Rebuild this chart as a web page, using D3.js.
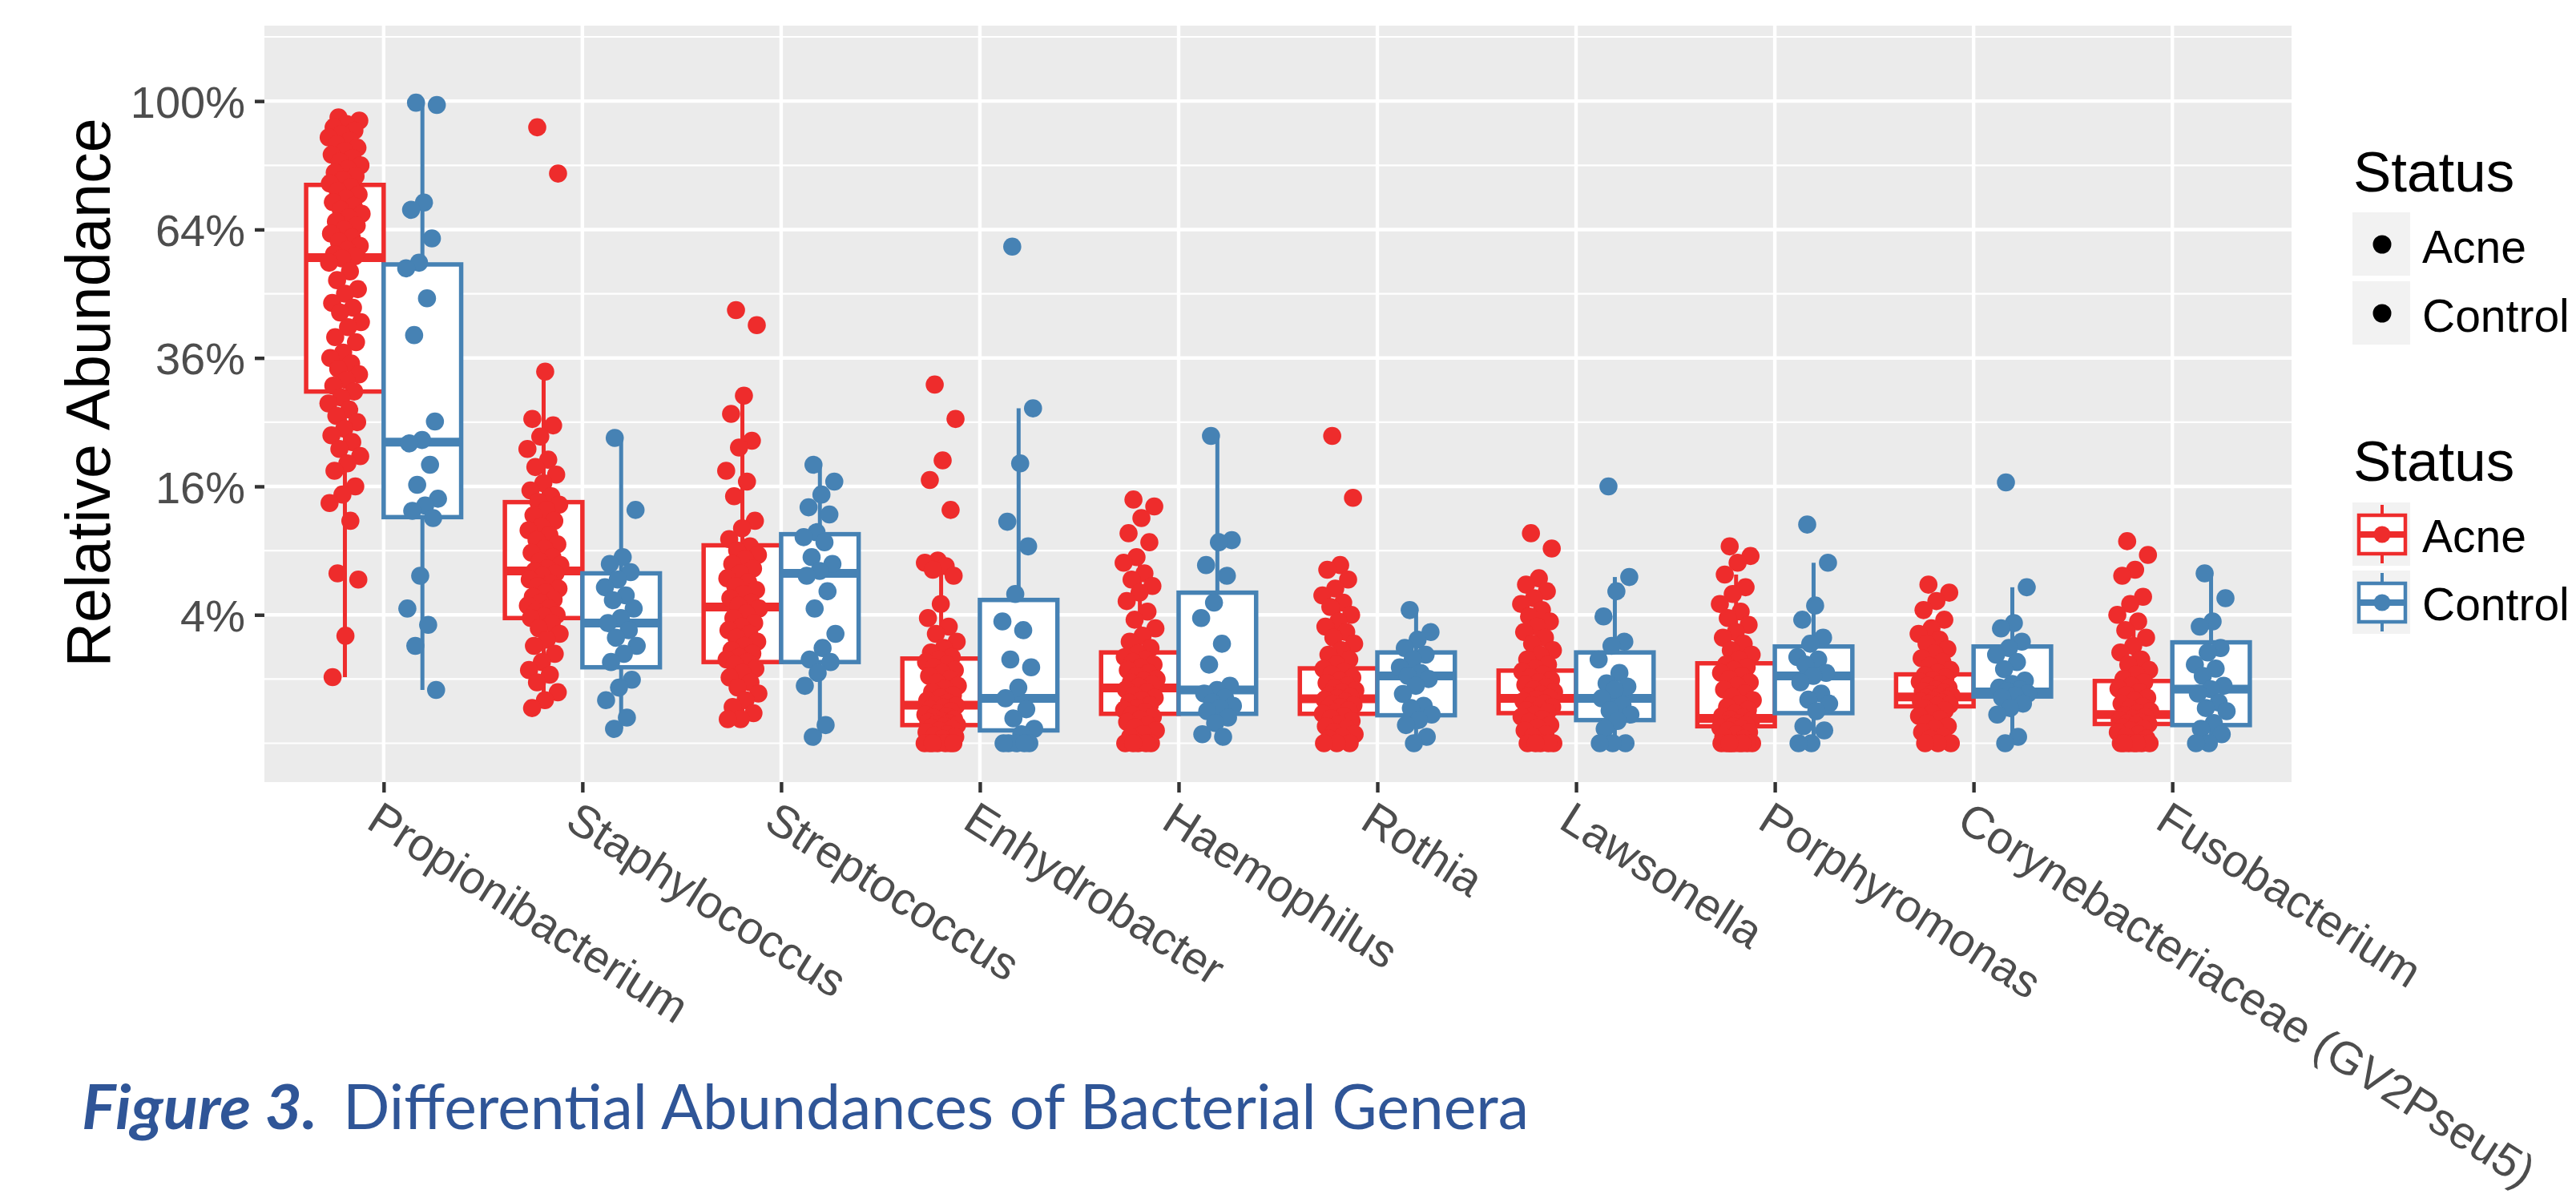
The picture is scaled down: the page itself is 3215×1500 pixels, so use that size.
<!DOCTYPE html>
<html><head><meta charset="utf-8">
<script src="https://cdn.jsdelivr.net/npm/d3@7"></script>
<style>body{margin:0;background:#fff;} svg{display:block;}</style>
</head><body>
<svg id="chart" width="3215" height="1500"></svg>
<script>
// ---------------- DATA (relative abundance, in %) ----------------
const genera = ["Propionibacterium","Staphylococcus","Streptococcus","Enhydrobacter","Haemophilus",
  "Rothia","Lawsonella","Porphyromonas","Corynebacteriaceae (GV2Pseu5)","Fusobacterium"];
const statuses = ["Acne","Control"];
const yTickValues = [4, 16, 36, 64, 100];
const yTickLabels = ["4%","16%","36%","64%","100%"];
const yMinorValues = [0, 1, 9, 25, 49, 81, 121];

// box statistics (per genus, same order as genera)
const acneLower  = [1.06, 0.3, 0.14, 0, 0, 0, 0, 0, 0, 0];
const acneQ1     = [30, 3.8, 1.6, 0.08, 0.21, 0.21, 0.22, 0.07, 0.33, 0.09];
const acneMedian = [57.2, 7.2, 4.5, 0.35, 0.74, 0.48, 0.49, 0.15, 0.52, 0.2];
const acneQ3     = [75.6, 14.1, 9.5, 1.74, 2.0, 1.36, 1.28, 1.55, 1.15, 0.94];
const acneUpper  = [95, 33.5, 29.3, 8.1, 7.9, 4.8, 4.3, 6.9, 3.2, 3.6];
const controlLower  = [0.69, 0.05, 0.01, 0, 0.01, 0, 0, 0, 0, 0];
const controlQ1     = [12.4, 1.4, 1.6, 0.04, 0.21, 0.19, 0.13, 0.22, 0.53, 0.08];
const controlMedian = [22, 3.5, 7.0, 0.49, 0.69, 1.1, 0.49, 1.1, 0.64, 0.71];
const controlQ3     = [55.6, 7.0, 10.6, 4.98, 5.5, 2.0, 2.0, 2.27, 2.27, 2.47];
const controlUpper  = [98.9, 22.6, 18.8, 27.2, 22.9, 4.3, 6.7, 7.9, 5.9, 7.0];

// individual samples (jittered points)
const acnePropionibacterium = [95,94,93,92,91,90,89,88,87,86,85,84,83,82,81,80,79,78,77,76,
  75,74,73,72,71,70,69,68,67,66,65,64,63,62,61,60,59,58,57.5,57,
  56,54,52,50,49,47,46,45,43,42,40,39,37,36,35,34,33,32,31,30,
  29,28,27,26,25,24,23,22,21,20,19,18,16,15,14,12,7,6.5,2.8,1.06];
const controlPropionibacterium = [99.5,98.8,70.9,69,61.8,56,54.7,48,40.4,25.1,22.3,21.8,18.8,16.2,14.5,13.7,13.1,12.3,6.8,4.4,3.4,2.3,0.69];
const acneStaphylococcus = [92,78.7,33.5,25.5,24.5,22.8,21,19.5,18.5,17.5,16.4,15.5,14.8,14.1,
  13.8,13.2,12.6,12,11.4,11,10.5,10,9.6,9.2,8.8,8.4,8,7.7,7.4,7.2,
  7.0,6.8,6.5,6.2,6,5.8,5.5,5.2,5,4.8,4.6,4.4,4.2,4,3.9,3.8,
  3.5,3.2,2.9,2.6,2.3,1.94,1.6,1.3,1.14,0.9,0.63,0.45,0.3];
const controlStaphylococcus = [22.6,13.2,8.4,7.8,7.1,6.5,5.9,5.3,4.96,4.4,3.8,3.5,3.1,2.7,2.3,1.94,1.6,0.98,0.75,0.45,0.16,0.05];
const acneStreptococcus = [45.5,42.4,29.3,26.3,22.2,21.2,18,16.6,14.8,12,11.2,10.1,
  9.4,9,8.6,8.2,7.8,7.4,7,6.6,6.3,6,5.7,5.4,5.1,4.8,4.6,
  4.4,4.1,3.8,3.5,3.3,3.1,2.9,2.7,2.5,2.3,2.1,1.95,1.8,1.7,1.6,
  1.5,1.35,1.2,1.05,0.9,0.75,0.6,0.45,0.32,0.22,0.14,0.14];
const controlStreptococcus = [18.8,16.6,15,13.5,12.7,10.8,10.3,9.8,8.4,7.8,7.2,6.8,5.6,4.4,2.9,2.2,1.7,1.6,1.2,0.8,0.08,0.01];
const acneEnhydrobacter = [31.2,25.5,19.4,16.8,13.2,8.1,7.9,7.6,7.3,6.8,4.7,3.8,3.3,2.9,2.5,2.2,2.0,1.8,
  1.7,1.6,1.5,1.4,1.3,1.2,1.1,1.0,0.9,0.8,0.72,0.64,0.56,0.5,0.44,0.4,0.36,
  0.34,0.31,0.28,0.25,0.22,0.2,0.18,0.16,0.14,0.12,0.11,0.1,0.09,0.08,
  0.07,0.06,0.05,0.04,0.03,0.02,0.015,0.01,0.005,0,0,0,0,0,0,0];
const controlEnhydrobacter = [59.8,27.2,19,11.9,9.4,5.4,3.6,3.1,1.7,1.4,0.75,0.49,0.28,0.15,0.05,0.02,0,0,0,0,0];
const acneHaemophilus = [14.4,13.6,12.3,10.7,9.8,8.4,7.9,7,6.5,6,5.5,4.9,4.2,3.7,3.2,2.8,2.5,2.2,
  1.95,1.8,1.7,1.6,1.5,1.4,1.3,1.2,1.1,1.0,0.95,0.9,0.85,
  0.78,0.7,0.63,0.56,0.5,0.45,0.4,0.35,0.3,0.27,0.24,
  0.2,0.17,0.14,0.11,0.08,0.06,0.04,0.02,0.01,0,0,0,0,0];
const controlHaemophilus = [22.9,10,9.8,7.7,6.8,4.8,3.8,2.4,1.5,0.8,0.69,0.6,0.5,0.4,0.34,0.3,0.25,0.16,0.1,0.02,0.01];
const acneRothia = [22.9,14.6,7.7,7.3,6.5,5.8,5.3,4.8,4.5,4.0,3.6,3.3,3.0,2.7,2.4,2.1,1.9,1.7,1.5,
  1.34,1.25,1.15,1.05,0.95,0.88,0.8,0.74,0.68,0.62,0.57,0.52,0.49,
  0.46,0.42,0.38,0.35,0.32,0.29,0.26,0.23,0.21,
  0.18,0.15,0.12,0.09,0.07,0.05,0.03,0.02,0.01,0.005,0,0,0];
const controlRothia = [4.3,3.0,2.6,2.2,1.9,1.7,1.4,1.2,1.1,1.0,0.8,0.59,0.34,0.3,0.2,0.13,0.08,0.01,0];
const acneLawsonella = [10.7,9.2,6.6,6.1,5.6,5.1,4.7,4.3,3.9,3.6,3.3,3.0,2.7,2.4,2.1,1.9,1.7,1.5,1.35,
  1.25,1.15,1.05,0.97,0.9,0.83,0.76,0.7,0.64,0.58,0.53,0.5,
  0.47,0.43,0.39,0.35,0.32,0.29,0.26,0.23,
  0.2,0.17,0.14,0.11,0.08,0.06,0.04,0.02,0.01,0,0,0,0,0];
const controlLawsonella = [16,6.7,5.6,3.9,2.5,2.3,1.7,1.2,0.87,0.78,0.7,0.49,0.35,0.26,0.2,0.12,0.05,0,0,0];
const acnePorphyromonas = [9.4,8.5,7.9,6.9,5.9,5.4,4.7,4.2,3.8,3.4,3.0,2.7,2.4,2.1,1.9,1.7,
  1.5,1.4,1.3,1.2,1.1,1.0,0.9,0.8,0.7,0.6,0.52,0.45,0.38,0.32,0.27,0.22,0.18,0.16,
  0.14,0.12,0.1,0.09,0.08,0.07,
  0.06,0.05,0.04,0.03,0.02,0.01,0.005,0,0,0,0,0,0,0,0,0];
const controlPorphyromonas = [11.6,7.9,4.6,3.7,2.7,2.4,1.8,1.7,1.5,1.2,1.1,0.9,0.6,0.46,0.38,0.25,0.07,0.04,0,0];
const acneCorynebacteriaceae = [6.1,5.5,4.9,4.3,3.7,3.2,2.9,2.6,2.4,2.15,1.95,1.75,1.6,1.45,1.3,1.2,
  1.12,1.05,0.98,0.92,0.86,0.8,0.75,0.7,0.66,0.62,0.58,0.55,0.52,
  0.5,0.47,0.44,0.42,0.4,0.38,0.36,0.34,
  0.3,0.26,0.22,0.18,0.14,0.1,0.07,0.05,0.03,0.01,0.005,0,0,0];
const controlCorynebacteriaceae = [16.5,5.9,3.5,3.2,2.5,2.2,1.9,1.6,1.33,0.95,0.85,0.75,0.7,0.66,0.6,0.55,0.5,0.38,0.3,0.2,0.01,0];
const acneFusobacterium = [9.9,8.6,7.3,6.8,5.2,4.7,4.0,3.6,3.1,2.7,2.3,2.0,1.7,1.5,1.3,1.15,1.0,
  0.9,0.8,0.72,0.64,0.56,0.5,0.44,0.38,0.33,0.29,0.25,0.22,
  0.19,0.17,0.15,0.13,0.11,0.1,0.09,
  0.08,0.06,0.05,0.04,0.03,0.02,0.01,0.005,0,0,0,0,0,0,0];
const controlFusobacterium = [7.0,5.1,3.6,3.3,2.2,2.0,1.5,1.35,1.1,0.8,0.71,0.6,0.4,0.3,0.25,0.1,0.05,0.02,0,0];

const acnePoints = [acnePropionibacterium, acneStaphylococcus, acneStreptococcus, acneEnhydrobacter, acneHaemophilus,
  acneRothia, acneLawsonella, acnePorphyromonas, acneCorynebacteriaceae, acneFusobacterium];
const controlPoints = [controlPropionibacterium, controlStaphylococcus, controlStreptococcus, controlEnhydrobacter, controlHaemophilus,
  controlRothia, controlLawsonella, controlPorphyromonas, controlCorynebacteriaceae, controlFusobacterium];

// ---------------- LAYOUT / STYLE ----------------
const colors = {Acne: "#EE2C2C", Control: "#4682B4"};
const panel = {left: 330, right: 2860, top: 32, bottom: 976};
const font = "'Liberation Sans', Arial, Helvetica, sans-serif";
const svg = d3.select("#chart");

const x = d3.scalePoint().domain(genera).range([panel.left, panel.right]).padding(0.6);
const step = x.step();
const dodge = d3.scaleBand().domain(statuses).range([-0.39 * step, 0.39 * step]);
const bw = dodge.bandwidth();
// sqrt-transformed y: sqrt(value/100) in [-0.0605, 1.1175] spans the panel
const yLin = d3.scaleLinear().domain([-0.0605, 1.1175]).range([panel.bottom, panel.top]);
const y = d3.scaleSqrt().domain([0, 100]).range([yLin(0), yLin(1)]);

// panel background
svg.append("rect").attr("x", panel.left).attr("y", panel.top)
  .attr("width", panel.right - panel.left).attr("height", panel.bottom - panel.top)
  .attr("fill", "#EBEBEB");

// grid
const grid = svg.append("g");
grid.selectAll(".minor").data(yMinorValues).enter().append("line")
  .attr("x1", panel.left).attr("x2", panel.right)
  .attr("y1", d => y(d)).attr("y2", d => y(d))
  .attr("stroke", "#fff").attr("stroke-width", 2.2);
grid.selectAll(".major").data(yTickValues).enter().append("line")
  .attr("x1", panel.left).attr("x2", panel.right)
  .attr("y1", d => y(d)).attr("y2", d => y(d))
  .attr("stroke", "#fff").attr("stroke-width", 4.4);
grid.selectAll(".vmajor").data(genera).enter().append("line")
  .attr("x1", d => x(d)).attr("x2", d => x(d))
  .attr("y1", panel.top).attr("y2", panel.bottom)
  .attr("stroke", "#fff").attr("stroke-width", 4.4);

// boxplots
const boxRows = [];
genera.forEach((g, i) => {
  boxRows.push({g, s: "Acne", lo: acneLower[i], q1: acneQ1[i], med: acneMedian[i], q3: acneQ3[i], hi: acneUpper[i]});
  boxRows.push({g, s: "Control", lo: controlLower[i], q1: controlQ1[i], med: controlMedian[i], q3: controlQ3[i], hi: controlUpper[i]});
});
const cx = d => x(d.g) + dodge(d.s) + bw / 2;
const boxes = svg.append("g").selectAll("g").data(boxRows).enter().append("g");
boxes.append("line").attr("x1", cx).attr("x2", cx).attr("y1", d => y(d.q3)).attr("y2", d => y(d.hi))
  .attr("stroke", d => colors[d.s]).attr("stroke-width", 5);
boxes.append("line").attr("x1", cx).attr("x2", cx).attr("y1", d => y(d.q1)).attr("y2", d => y(d.lo))
  .attr("stroke", d => colors[d.s]).attr("stroke-width", 5);
boxes.append("rect").attr("x", d => x(d.g) + dodge(d.s)).attr("width", bw)
  .attr("y", d => y(d.q3)).attr("height", d => y(d.q1) - y(d.q3))
  .attr("fill", "#fff").attr("stroke", d => colors[d.s]).attr("stroke-width", 5.5);
boxes.append("line").attr("x1", d => x(d.g) + dodge(d.s)).attr("x2", d => x(d.g) + dodge(d.s) + bw)
  .attr("y1", d => y(d.med)).attr("y2", d => y(d.med))
  .attr("stroke", d => colors[d.s]).attr("stroke-width", 11);

// jittered points
const pts = [];
genera.forEach((g, i) => {
  acnePoints[i].forEach((v, j) => pts.push({g, s: "Acne", v, j}));
  controlPoints[i].forEach((v, j) => pts.push({g, s: "Control", v, j}));
});
const jitter = j => (((j * 0.6180339887 + 0.31) % 1) - 0.5) * 42;
svg.append("g").selectAll("circle").data(pts).enter().append("circle")
  .attr("cx", d => x(d.g) + dodge(d.s) + bw / 2 + jitter(d.j))
  .attr("cy", d => y(d.v))
  .attr("r", 11.3)
  .attr("fill", d => colors[d.s]);

// y axis
const yAxis = svg.append("g").attr("transform", `translate(${panel.left},0)`)
  .call(d3.axisLeft(y).tickValues(yTickValues).tickFormat((d, i) => yTickLabels[i]).tickSize(12).tickPadding(12));
yAxis.select(".domain").remove();
yAxis.selectAll(".tick line").attr("stroke", "#333").attr("stroke-width", 4.4);
yAxis.selectAll(".tick text").attr("fill", "#4D4D4D").attr("font-family", font).attr("font-size", 56)
  .attr("dy", "0.36em");

// x axis
const xAxis = svg.append("g").attr("transform", `translate(0,${panel.bottom})`)
  .call(d3.axisBottom(x).tickSize(13).tickPadding(0));
xAxis.select(".domain").remove();
xAxis.selectAll(".tick line").attr("stroke", "#333").attr("stroke-width", 4.4);
xAxis.selectAll(".tick text").attr("fill", "#4D4D4D").attr("font-family", font).attr("font-size", 57)
  .attr("text-anchor", "start").attr("x", 0).attr("y", 0).attr("dy", 0)
  .attr("transform", "translate(-24,56) rotate(32.5)");

// y title
svg.append("text").attr("transform", `translate(137,${(panel.top + panel.bottom) / 2 - 14}) rotate(-90)`)
  .attr("text-anchor", "middle").attr("font-family", font).attr("font-size", 77).attr("fill", "#000")
  .text("Relative Abundance");

// legends
const lg1 = svg.append("g");
lg1.append("text").attr("x", 2937).attr("y", 239).attr("font-family", font).attr("font-size", 71).text("Status");
statuses.forEach((s, i) => {
  const top = 265 + i * 86;
  lg1.append("rect").attr("x", 2936).attr("y", top).attr("width", 72).attr("height", 79).attr("fill", "#F2F2F2");
  lg1.append("circle").attr("cx", 2973).attr("cy", top + 40).attr("r", 11.5).attr("fill", "#000");
  lg1.append("text").attr("x", 3023).attr("y", top + 63).attr("font-family", font).attr("font-size", 57).text(s);
});
const lg2 = svg.append("g");
lg2.append("text").attr("x", 2937).attr("y", 600).attr("font-family", font).attr("font-size", 71).text("Status");
statuses.forEach((s, i) => {
  const top = 627 + i * 85;
  const c = colors[s];
  lg2.append("rect").attr("x", 2936).attr("y", top).attr("width", 72).attr("height", 79).attr("fill", "#F2F2F2");
  lg2.append("line").attr("x1", 2973).attr("x2", 2973).attr("y1", top + 3).attr("y2", top + 76).attr("stroke", c).attr("stroke-width", 4);
  lg2.append("rect").attr("x", 2944).attr("y", top + 16).attr("width", 58).attr("height", 48)
    .attr("fill", "#fff").attr("stroke", c).attr("stroke-width", 4.5);
  lg2.append("line").attr("x1", 2944).attr("x2", 3002).attr("y1", top + 40).attr("y2", top + 40).attr("stroke", c).attr("stroke-width", 8);
  lg2.append("circle").attr("cx", 2973).attr("cy", top + 40).attr("r", 10.5).attr("fill", c);
  lg2.append("text").attr("x", 3023).attr("y", top + 62).attr("font-family", font).attr("font-size", 57).text(s);
});

// caption
const capFont = "Lato, 'Open Sans', sans-serif";
svg.append("text").attr("x", 102).attr("y", 1409).attr("font-family", capFont).attr("font-size", 77)
  .attr("font-weight", "bold").attr("font-style", "italic").attr("fill", "#2F5597")
  .attr("textLength", 294).attr("lengthAdjust", "spacingAndGlyphs").text("Figure 3.");
svg.append("text").attr("x", 428).attr("y", 1409).attr("font-family", capFont).attr("font-size", 77)
  .attr("fill", "#2F5597").attr("textLength", 1480).attr("lengthAdjust", "spacingAndGlyphs")
  .text("Differential Abundances of Bacterial Genera");
</script>
</body></html>
